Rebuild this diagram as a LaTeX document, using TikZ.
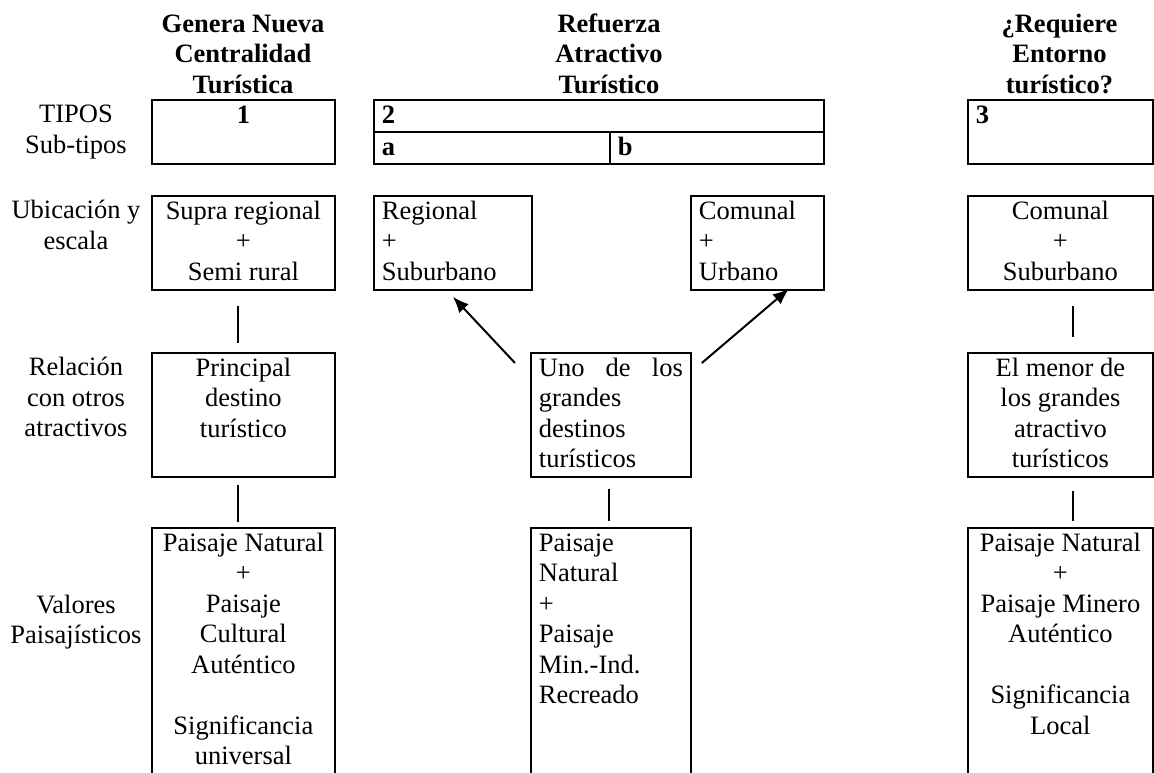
\documentclass[tikz,border=0pt]{standalone}
\usepackage{fontspec}
\setmainfont{Liberation Serif}
\usepackage{tikz}
\usetikzlibrary{arrows.meta}

\newcommand{\tstrut}{\rule{0pt}{22.5pt}}
\newcommand{\ccell}[3]{\parbox[c][#2pt][t]{#1pt}{\centering\tstrut #3}}
\newcommand{\lcell}[3]{\parbox[c][#2pt][t]{#1pt}{\raggedright\tstrut #3}}

\begin{document}
\begin{tikzpicture}[
    x=1pt, y=-1pt,
    font=\fontsize{26.5pt}{30.5pt}\selectfont,
    cell/.style={draw, line width=1.8pt, anchor=north west,
                 inner xsep=8pt, inner ysep=1pt},
    colhead/.style={font=\fontsize{26.5pt}{30.5pt}\selectfont\bfseries,
                    align=center, anchor=north, inner sep=0pt},
    rowlbl/.style={align=center, anchor=north, inner sep=0pt},
    link/.style={line width=1.8pt},
    arrow/.style={-{Latex[length=16pt, width=13pt]}, line width=2pt},
]
    \useasboundingbox (0,0) rectangle (1154,772);

    % column heads
    \node[colhead] (h1) at (243,9.5) {\tstrut Genera Nueva\\Centralidad\\Turística};
    \node[colhead] (h2) at (609,9.5) {\tstrut Refuerza\\Atractivo\\Turístico};
    \node[colhead] (h3) at (1059.5,9.5) {\tstrut ¿Requiere\\Entorno\\turístico?};

    % row labels
    \node[rowlbl] (l1) at (76,100) {\tstrut TIPOS\\Sub-tipos};
    \node[rowlbl] (l2) at (76,196) {\tstrut Ubicación y\\escala};
    \node[rowlbl] (l3) at (76,353) {\tstrut Relación\\con otros\\atractivos};
    \node[rowlbl] (l4) at (76,590.5) {\tstrut Valores\\Paisajísticos};

    % tipos
    \node[cell] (t1) at (151,99) {\ccell{167}{62}{\textbf{1}}};
    \node[cell] (t2) at (373,99) {\lcell{434}{30}{\textbf{2}}};
    \node[cell] (t2a) at (373,131) {\lcell{220}{30}{\textbf{a}}};
    \node[cell] (t2b) at (609,131) {\lcell{198}{30}{\textbf{b}}};
    \node[cell] (t3) at (967,99) {\lcell{169}{62}{\textbf{3}}};

    % ubicacion y escala
    \node[cell] (u1) at (151,195) {\ccell{167}{92}{Supra regional\\+\\Semi rural}};
    \node[cell] (u2a) at (373,195) {\lcell{142}{92}{Regional\\+\\Suburbano}};
    \node[cell] (u2b) at (690,195) {\lcell{117}{92}{Comunal\\+\\Urbano}};
    \node[cell] (u3) at (967,195) {\ccell{169}{92}{Comunal\\+\\Suburbano}};

    % relacion con otros atractivos
    \node[cell] (r1) at (151,352) {\ccell{167}{122}{Principal\\destino\\turístico}};
    \node[cell] (r2) at (530,352) {\lcell{144}{122}{Uno\hfill de\hfill los\\grandes\\destinos\\turísticos}};
    \node[cell] (r3) at (967,352) {\ccell{169}{122}{El menor de\\los grandes\\atractivo\\turísticos}};

    % valores paisajisticos
    \node[cell] (v1) at (151,527) {\ccell{167}{258}{Paisaje Natural\\+\\Paisaje\\Cultural\\Auténtico\\[30.5pt]Significancia\\universal}};
    \node[cell] (v2) at (530,527) {\lcell{144}{258}{Paisaje\\Natural\\+\\Paisaje\\Min.-Ind.\\Recreado}};
    \node[cell] (v3) at (967,527) {\ccell{169}{258}{Paisaje Natural\\+\\Paisaje Minero\\Auténtico\\[30.5pt]Significancia\\Local}};

    \draw[link] ([xshift=-5.5pt, yshift=-15pt]u1.south) -- ([xshift=-5.5pt, yshift=9pt]r1.north);
    \draw[link] ([xshift=-5.5pt, yshift=-7pt]r1.south) -- ([xshift=-5.5pt, yshift=5pt]v1.north);
    \draw[link] ([xshift=-2pt, yshift=-11pt]r2.south) -- ([xshift=-2pt, yshift=6pt]v2.north);
    \draw[link] ([xshift=12.5pt, yshift=-15pt]u3.south) -- ([xshift=12.5pt, yshift=15pt]r3.north);
    \draw[link] ([xshift=12.5pt, yshift=-13pt]r3.south) -- ([xshift=12.5pt, yshift=6pt]v3.north);

    \coordinate (ua) at ([xshift=-15pt, yshift=-11pt]r2.north west);
    \coordinate (ub) at ([xshift=10pt, yshift=-11pt]r2.north east);
    \draw[arrow] (ua) -- ([yshift=-6pt]u2a.south);
    \draw[arrow] (ub) -- ([xshift=31.5pt, yshift=2pt]u2b.south);
\end{tikzpicture}
\end{document}
